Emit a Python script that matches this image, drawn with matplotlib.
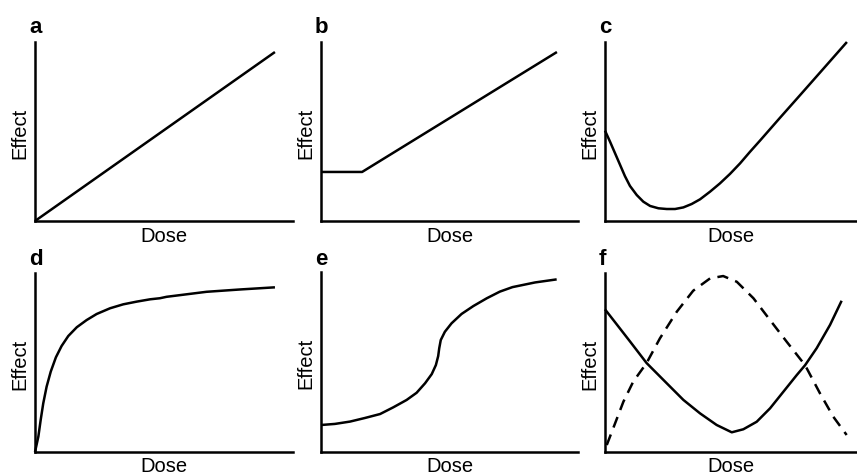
import matplotlib
matplotlib.use('Agg')
import matplotlib.pyplot as plt

plt.rcParams['font.family'] = ['Liberation Sans', 'DejaVu Sans']

# panel data (dose and effect on a 0-10 scale)
a_dose = [0, 9.3]
a_eff = [0, 9.44]

b_dose = [0, 1.6, 9.18]
b_eff = [2.74, 2.74, 9.44]

c_dose = [0, 0.20, 0.40, 0.60, 0.79, 0.99, 1.26, 1.52, 1.79, 2.12, 2.45, 2.78,
          3.11, 3.44, 3.77, 4.17, 4.56, 4.96, 5.36, 5.75, 6.15, 6.94, 7.74,
          8.53, 9.60]
c_eff = [5.05, 4.43, 3.78, 3.13, 2.51, 1.96, 1.45, 1.08, 0.84, 0.71, 0.67, 0.67,
         0.76, 0.95, 1.21, 1.64, 2.10, 2.63, 3.22, 3.86, 4.49, 5.76, 7.03,
         8.29, 10.0]

d_dose = [0, 0.13, 0.22, 0.32, 0.45, 0.61, 0.81, 1.03, 1.29, 1.62, 2.0, 2.39,
          2.91, 3.42, 3.94, 4.46, 4.84, 5.1, 6.65, 7.95, 9.3]
d_eff = [0, 0.86, 1.79, 2.72, 3.65, 4.49, 5.29, 5.92, 6.48, 6.97, 7.37, 7.71,
         8.03, 8.25, 8.40, 8.53, 8.59, 8.67, 8.95, 9.08, 9.2]

e_dose = [0, 0.54, 1.13, 1.71, 2.30, 2.81, 3.33, 3.72, 4.05, 4.31, 4.47, 4.56,
          4.60, 4.66, 4.82, 5.08, 5.47, 5.93, 6.45, 6.96, 7.45, 8.33, 9.17]
e_eff = [1.5, 1.56, 1.69, 1.89, 2.11, 2.48, 2.89, 3.29, 3.82, 4.33, 4.83, 5.33,
         5.76, 6.22, 6.68, 7.15, 7.67, 8.11, 8.54, 8.91, 9.16, 9.42, 9.59]

f_solid_dose = [0, 0.46, 0.99, 1.65, 2.45, 3.11, 3.77, 4.43, 5.03, 5.49, 6.02,
                6.55, 7.08, 7.61, 7.94, 8.40, 8.93, 9.39]
f_solid_eff = [7.97, 7.14, 6.18, 4.97, 3.84, 2.91, 2.16, 1.51, 1.10, 1.27, 1.69,
               2.44, 3.37, 4.30, 4.85, 5.80, 7.10, 8.45]

f_dash_dose = [0.07, 0.40, 0.73, 1.12, 1.65, 2.18, 2.85, 3.50, 4.17, 4.69, 5.23,
               5.89, 6.55, 7.21, 7.94, 8.53, 9.06, 9.59]
f_dash_eff = [0.39, 1.60, 2.81, 3.93, 4.97, 6.35, 7.84, 9.01, 9.70, 9.83, 9.51,
              8.59, 7.37, 6.16, 4.85, 3.28, 1.97, 0.95]

letters = ['a', 'b', 'c', 'd', 'e', 'f']

W, H = 857, 475
fig = plt.figure(figsize=(W / 100, H / 100), dpi=100)

# axes boxes in pixels: left, right, top, bottom
boxes = [(35, 293, 42, 221), (321, 578, 42, 221), (605, 857, 42, 221),
         (35, 293, 273, 452), (321, 578, 272, 452), (605, 857, 273, 452)]

axes = []
for (l, r, t, b), let in zip(boxes, letters):
    ax = fig.add_axes([l / W, (H - b) / H, (r - l) / W, (b - t) / H])
    ax.set_xlim(0, 10)
    ax.set_ylim(0, 10)
    for s in ['top', 'right']:
        ax.spines[s].set_visible(False)
    for s in ['left', 'bottom']:
        ax.spines[s].set_linewidth(1.8)
    ax.set_xticks([])
    ax.set_yticks([])
    ax.set_xlabel('Dose', fontsize=14.5)
    ax.set_ylabel('Effect', fontsize=14.5)
    ax.xaxis.label.set_va('center')
    ax.yaxis.label.set_va('center')
    ax.xaxis.set_label_coords(0.5, -15 / (b - t))
    ax.yaxis.set_label_coords(-15 / (r - l), 0.49)
    ybase = 33 if t < 100 else 265
    fig.text((l - 6) / W, (H - ybase) / H, let,
             fontsize=16, fontweight='bold', ha='left', va='baseline')
    axes.append(ax)

kw = dict(color='black', lw=1.8, clip_on=False, solid_capstyle='butt',
          solid_joinstyle='round')
axes[0].plot(a_dose, a_eff, **kw)
axes[1].plot(b_dose, b_eff, **kw)
axes[2].plot(c_dose, c_eff, **kw)
axes[3].plot(d_dose, d_eff, **kw)
axes[4].plot(e_dose, e_eff, **kw)
axes[5].plot(f_solid_dose, f_solid_eff, **kw)
axes[5].plot(f_dash_dose, f_dash_eff, color='black', lw=1.8, clip_on=False,
             dashes=(4.5, 3))

fig.savefig('out.png', dpi=100)
